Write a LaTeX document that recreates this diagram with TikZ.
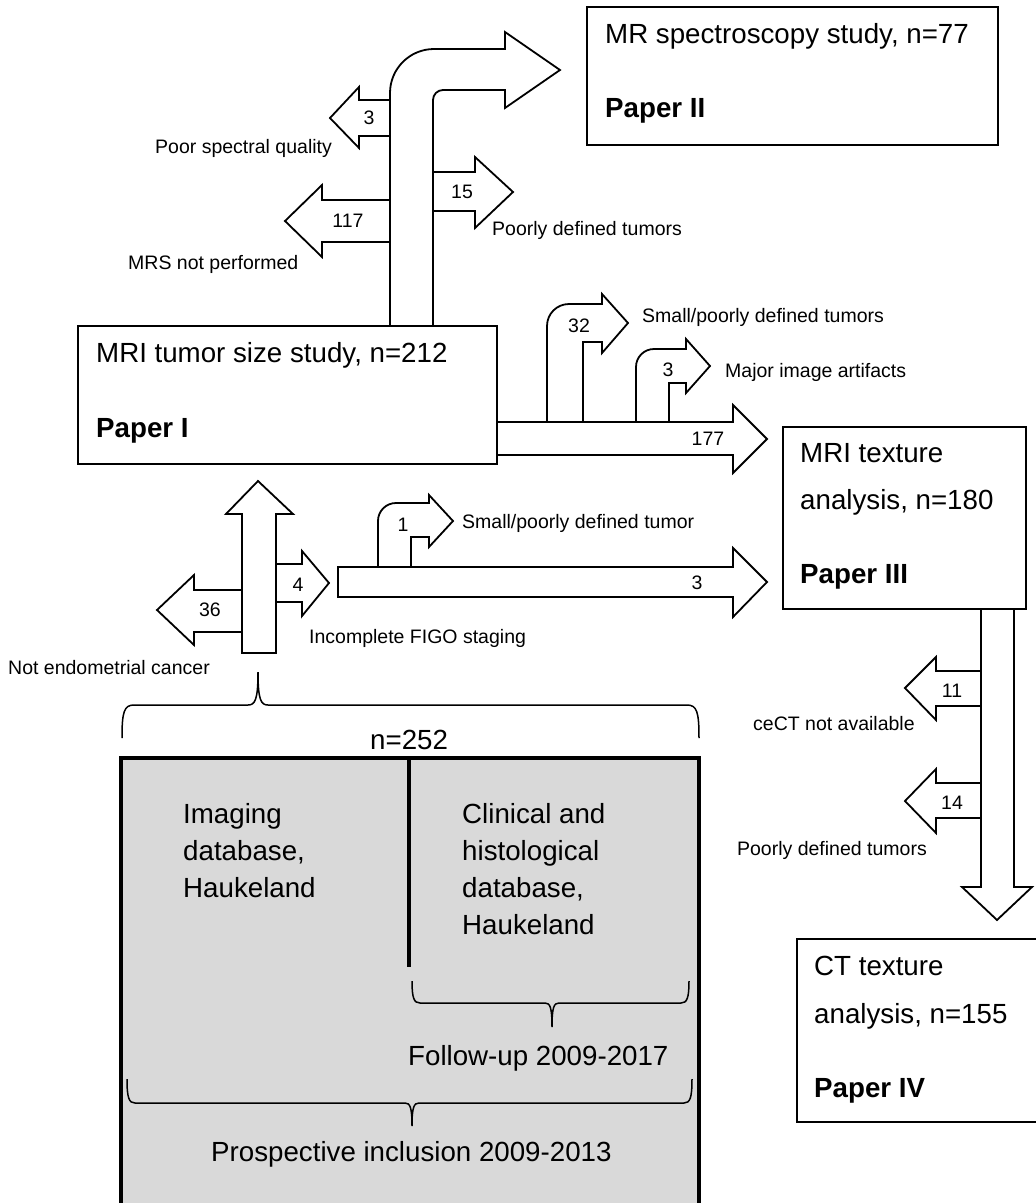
\documentclass[tikz,border=0pt]{standalone}
\usepackage{fontspec}
\setmainfont{Liberation Sans}
\definecolor{dbgray}{HTML}{D9D9D9}
\begin{document}
\begin{tikzpicture}[x=1pt,y=-1pt,
  boxline/.style={draw=black,line width=2pt,fill=white},
  blockarrow/.style={draw=black,line width=1.8pt,fill=white,line join=miter},
  bigtxt/.style={inner sep=0pt,anchor=base west,font=\fontsize{27.7}{33}\selectfont},
  boldtxt/.style={inner sep=0pt,anchor=base west,font=\fontsize{27.7}{33}\selectfont\bfseries},
  lbl/.style={inner sep=0pt,anchor=base west,font=\fontsize{19.5}{23}\selectfont},
  num/.style={inner sep=0pt,anchor=center,font=\fontsize{19.5}{23}\selectfont},
  bracel/.style={draw=black,line width=1.5pt}]
\useasboundingbox (0,0) rectangle (1036,1203);

% ---------- database block ----------
\fill[dbgray] (121,758) rectangle (699,1215);
\draw[line width=3.5pt] (121,1215) -- (121,758) -- (699,758) -- (699,1215);
\draw[line width=3.5pt] (409,758) -- (409,967);

% braces
\draw[bracel] (122,738) .. controls (122,712) and (124,705) .. (134,705) -- (248,705)
  .. controls (255,705) and (258,700) .. (258,672)
  .. controls (258,700) and (261,705) .. (268,705) -- (687,705)
  .. controls (697,705) and (699,712) .. (699,738);
\draw[bracel] (412,981) .. controls (412,998) and (414,1003) .. (420,1003) -- (545,1003)
  .. controls (550,1003) and (552,1007) .. (552,1027)
  .. controls (552,1007) and (554,1003) .. (559,1003) -- (681,1003)
  .. controls (687,1003) and (689,998) .. (689,981);
\draw[bracel] (127,1079) .. controls (127,1098) and (129,1103) .. (135,1103) -- (405,1103)
  .. controls (410,1103) and (412,1107) .. (412,1126)
  .. controls (412,1107) and (414,1103) .. (419,1103) -- (684,1103)
  .. controls (690,1103) and (692,1098) .. (692,1079);

\node[bigtxt] (n252) at (370,749) {n=252};
\node[bigtxt] (im1) at (183,823) {Imaging};
\node[bigtxt] (im2) at (183,860) {database,};
\node[bigtxt] (im3) at (183,897) {Haukeland};
\node[bigtxt] (cl1) at (462,823) {Clinical and};
\node[bigtxt] (cl2) at (462,860) {histological};
\node[bigtxt] (cl3) at (462,897) {database,};
\node[bigtxt] (cl4) at (462,934) {Haukeland};
\node[bigtxt] (fu) at (408,1065) {Follow-up 2009-2017};
\node[bigtxt] (pi) at (211,1161) {Prospective inclusion 2009-2013};

% ---------- arrows ----------
% side arrows of the up arrow (drawn first, shaft on top)
\draw[blockarrow] (242,590) -- (194,590) -- (194,575) -- (157,610) -- (194,645) -- (194,632) -- (242,632);
\draw[blockarrow] (276,564) -- (302,564) -- (302,551) -- (329,583) -- (302,616) -- (302,602) -- (276,602);
\draw[blockarrow] (242,653) -- (242,514) -- (226,514) -- (258,481) -- (293,514) -- (276,514) -- (276,653) -- cycle;
% lower horizontal arrow
\draw[blockarrow] (338,567) -- (733,567) -- (733,548) -- (767,582) -- (733,617) -- (733,597) -- (338,597) -- cycle;
\draw[blockarrow] (378,567) -- (378,521) .. controls (378,511) and (386,503) .. (396,503) -- (429,503) -- (429,495) -- (453,521) -- (429,547) -- (429,537) -- (411,537) -- (411,567) -- cycle;
% 177 arrow
\draw[blockarrow] (497,422) -- (733,422) -- (733,405) -- (767,439) -- (733,473) -- (733,455) -- (497,455) -- cycle;
\draw[blockarrow] (547,422) -- (547,326) .. controls (547,313.8) and (556.8,304) .. (569,304) -- (602,304) -- (602,294) -- (628,323) -- (602,353) -- (602,342) -- (583,342) -- (583,422) -- cycle;
\draw[blockarrow] (636,422) -- (636,367) .. controls (636,357) and (644,349) .. (654,349) -- (686,349) -- (686,339) -- (710,366) -- (686,393) -- (686,383) -- (669,383) -- (669,422) -- cycle;
% side arrows of the big bent arrow
\draw[blockarrow] (390,100) -- (359,100) -- (359,87) -- (330,118) -- (359,148) -- (359,136) -- (390,136);
\draw[blockarrow] (390,200) -- (322,200) -- (322,185) -- (285,221) -- (322,257) -- (322,242) -- (390,242);
\draw[blockarrow] (433,172) -- (475,172) -- (475,157) -- (513,192) -- (475,228) -- (475,211) -- (433,211);
% big bent arrow to MR spectroscopy
\draw[blockarrow] (390,326) -- (390,93) .. controls (390,68.7) and (409.7,49) .. (434,49) -- (505,49) -- (505,32) -- (560,70) -- (505,108) -- (505,90) -- (443,90) .. controls (437.5,90) and (433,94.5) .. (433,100) -- (433,326) -- cycle;
% side arrows of the down arrow
\draw[blockarrow] (981,671) -- (936,671) -- (936,657) -- (905,688) -- (936,720) -- (936,706) -- (981,706);
\draw[blockarrow] (981,783) -- (936,783) -- (936,769) -- (905,801) -- (936,833) -- (936,818) -- (981,818);
% down arrow to CT
\draw[blockarrow] (981,609) -- (981,887) -- (962,887) -- (997,920) -- (1032,887) -- (1014,887) -- (1014,609) -- cycle;

% ---------- boxes ----------
\draw[boxline] (587,7) rectangle (998,145);
\node[bigtxt] (mrs1) at (605,43) {MR spectroscopy study, n=77};
\node[boldtxt] (mrs2) at (605,117) {Paper II};

\draw[boxline] (78,326) rectangle (497,464);
\node[bigtxt] (ts1) at (96,362) {MRI tumor size study, n=212};
\node[boldtxt] (ts2) at (96,437) {Paper I};

\draw[boxline] (783,427) rectangle (1026,609);
\node[bigtxt] (tx1) at (800,462) {MRI texture};
\node[bigtxt] (tx2) at (800,509) {analysis, n=180};
\node[boldtxt] (tx3) at (800,583) {Paper III};

\draw[boxline] (797,939) rectangle (1045,1122);
\node[bigtxt] (ct1) at (814,975) {CT texture};
\node[bigtxt] (ct2) at (814,1023) {analysis, n=155};
\node[boldtxt] (ct3) at (814,1097) {Paper IV};

% ---------- numbers ----------
\node[num] (k3a) at (369,118) {3};
\node[num] (k117) at (348,221) {117};
\node[num] (k15) at (462,192) {15};
\node[num] (k32) at (579,326) {32};
\node[num] (k3b) at (668,370) {3};
\node[num] (k177) at (708,439) {177};
\node[num] (k1) at (403,525) {1};
\node[num] (k4) at (298,585) {4};
\node[num] (k36) at (210,610) {36};
\node[num] (k3c) at (697,583) {3};
\node[num] (k11) at (952,691) {11};
\node[num] (k14) at (952,803) {14};

% ---------- labels ----------
\node[lbl] (l1) at (155,153) {Poor spectral quality};
\node[lbl] (l2) at (128,269) {MRS not performed};
\node[lbl] (l3) at (492,235) {Poorly defined tumors};
\node[lbl] (l4) at (642,322) {Small/poorly defined tumors};
\node[lbl] (l5) at (725,377) {Major image artifacts};
\node[lbl] (l6) at (462,528) {Small/poorly defined tumor};
\node[lbl] (l7) at (309,643) {Incomplete FIGO staging};
\node[lbl] (l8) at (8,674) {Not endometrial cancer};
\node[lbl] (l9) at (753,730) {ceCT not available};
\node[lbl,anchor=base east] (l10) at (927,855) {Poorly defined tumors};
\end{tikzpicture}
\end{document}
